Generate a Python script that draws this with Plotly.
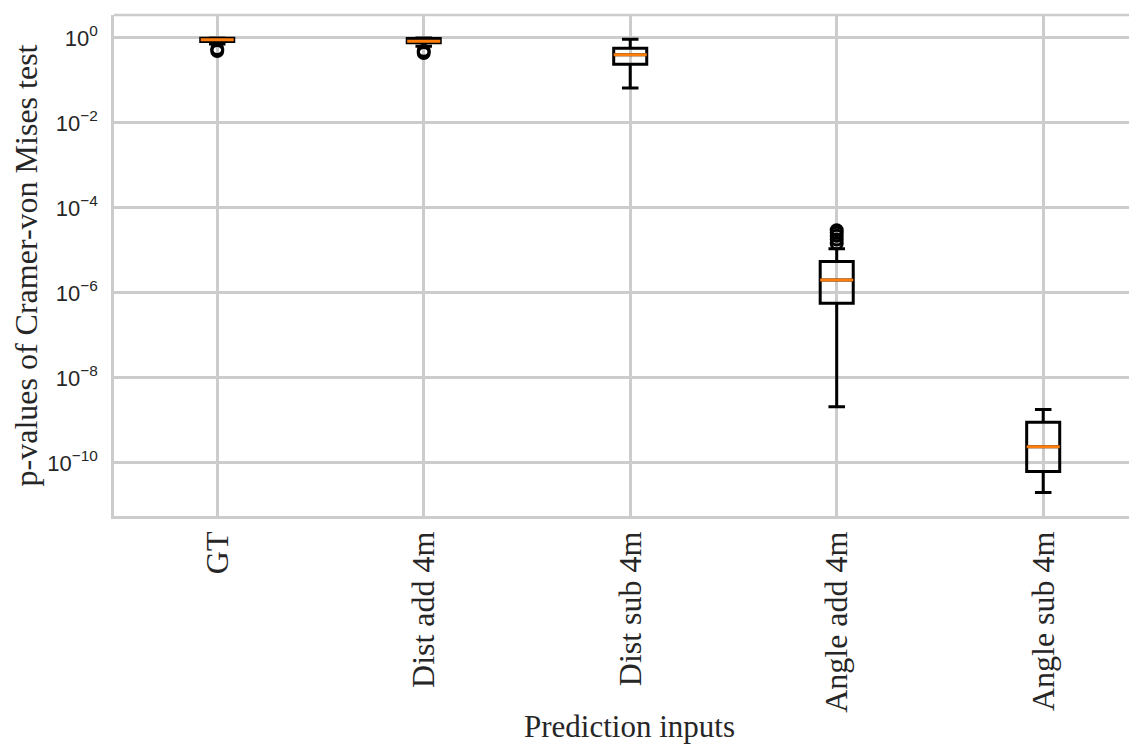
import plotly.graph_objects as go

categories = ["GT", "Dist add 4m", "Dist sub 4m", "Angle add 4m", "Angle sub 4m"]
positions = [1, 2, 3, 4, 5]
lower_whisker = [0.72, 0.64, 0.066, 2.1e-9, 2.0e-11]
q1 = [0.82, 0.77, 0.24, 5.7e-7, 6.3e-11]
median = [0.91, 0.84, 0.40, 2.0e-6, 2.4e-10]
q3 = [0.99, 0.97, 0.57, 5.5e-6, 9.0e-10]
upper_whisker = [1.0, 1.0, 0.93, 1.1e-5, 1.8e-9]
outlier_x = [1, 1, 2, 2, 4, 4, 4, 4, 4]
outlier_y = [0.49, 0.55, 0.44, 0.50, 3.0e-5, 2.6e-5, 2.2e-5, 1.8e-5, 1.45e-5]
ytick_vals = [1e0, 1e-2, 1e-4, 1e-6, 1e-8, 1e-10]
ytick_text = ["10<sup>0</sup>", "10<sup>−2</sup>", "10<sup>−4</sup>", "10<sup>−6</sup>",
              "10<sup>−8</sup>", "10<sup>−10</sup>"]

box_w = 0.16
serif = "Liberation Serif, Times New Roman, serif"
sans = "Liberation Sans, Arial, sans-serif"
grid = "#cccccc"

fig = go.Figure()
fig.add_trace(go.Box(
    x=positions, q1=q1, median=median, q3=q3,
    lowerfence=lower_whisker, upperfence=upper_whisker,
    width=box_w, whiskerwidth=0.5,
    line=dict(color="black", width=3),
    fillcolor="rgba(255,255,255,0)",
    boxpoints=False, showlegend=False, hoverinfo="skip",
))
for p, m in zip(positions, median):
    fig.add_trace(go.Scatter(
        x=[p - box_w / 2, p + box_w / 2], y=[m, m], mode="lines",
        line=dict(color="#ff7f0e", width=3), showlegend=False, hoverinfo="skip",
    ))
fig.add_trace(go.Scatter(
    x=outlier_x, y=outlier_y, mode="markers",
    marker=dict(symbol="circle-open", size=11, color="black", line=dict(width=3, color="black")),
    showlegend=False, hoverinfo="skip",
))

fig.update_layout(
    width=1137, height=744,
    margin=dict(l=106, r=0, t=7, b=236),
    paper_bgcolor="white", plot_bgcolor="white",
    xaxis=dict(
        range=[0.5, 5.493], tickmode="array", tickvals=positions, ticktext=categories,
        tickangle=-90, tickfont=dict(family=serif, size=32, color="#262626"),
        showgrid=True, gridcolor=grid, gridwidth=2.5, automargin=False,
        showline=True, linecolor=grid, linewidth=2.5, ticks="", zeroline=False,
        ticklabelstandoff=0,
        title=dict(text="Prediction inputs", font=dict(family=serif, size=31, color="#262626"), standoff=4),
    ),
    yaxis=dict(
        type="log", range=[-11.25, 0.54], tickmode="array", tickvals=ytick_vals, ticktext=ytick_text,
        tickfont=dict(family=sans, size=22, color="#262626"),
        showgrid=True, gridcolor=grid, gridwidth=2.5, automargin=False,
        showline=True, linecolor=grid, linewidth=2.5, ticks="", zeroline=False,
        ticklabelstandoff=9,
        title=dict(text="p-values of Cramer-von Mises test", font=dict(family=serif, size=32, color="#262626"), standoff=13),
    ),
    shapes=[dict(type="line", xref="paper", yref="paper", x0=0, x1=1, y0=1, y1=1,
                 line=dict(color=grid, width=2.5))],
)

fig.write_html("out.html")
